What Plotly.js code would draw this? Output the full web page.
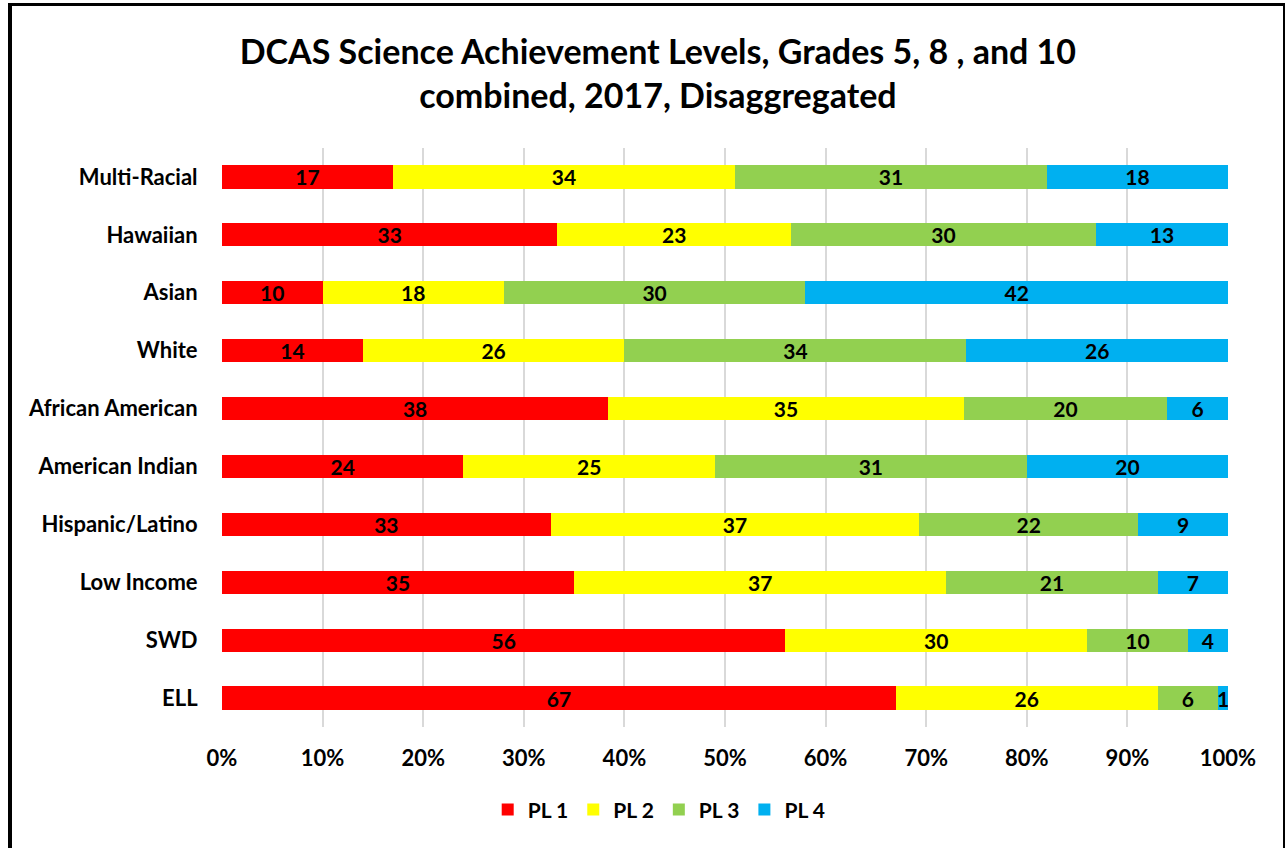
<!DOCTYPE html>
<html>
<head>
<meta charset="utf-8">
<script src="https://cdn.plot.ly/plotly-3.0.1.min.js"></script>
<style>
html,body{margin:0;padding:0;background:#fff;width:1285px;height:848px;overflow:hidden;}
#chart{position:absolute;left:0;top:0;width:1285px;height:848px;}
#frame{position:absolute;left:8px;top:3px;width:1271px;height:842px;border-left:4px solid #000;border-top:3px solid #000;border-right:2px solid #000;border-bottom:1px solid #a0a0a0;pointer-events:none;}
</style>
</head>
<body>
<div id="chart"></div>
<div id="frame"></div>
<script>
var categories = ["Multi-Racial","Hawaiian","Asian","White","African American","American Indian","Hispanic/Latino","Low Income","SWD","ELL"];
var pl1 = [17,33,10,14,38,24,33,35,56,67];
var pl2 = [34,23,18,26,35,25,37,37,30,26];
var pl3 = [31,30,30,34,20,31,22,21,10,6];
var pl4 = [18,13,42,26,6,20,9,7,4,1];
var seriesNames = ["PL 1","PL 2","PL 3","PL 4"];
var seriesColors = ["#FF0000","#FFFF00","#92D050","#00B0F0"];
var seriesValues = [pl1,pl2,pl3,pl4];
var tickValues = [0,10,20,30,40,50,60,70,80,90,100];
var tickLabels = ['0%','10%','20%','30%','40%','50%','60%','70%','80%','90%','100%'];

var FONT = "Lato, 'Open Sans', sans-serif";
var traces = seriesValues.map(function(vals,i){
  return {
    type:'bar', orientation:'h',
    name: seriesNames[i],
    x: vals, y: categories,
    text: vals.map(String),
    texttemplate:'%{text}',
    textposition:'inside',
    insidetextanchor:'middle',
    textangle:0,
    constraintext:'none',
    insidetextfont:{family:FONT,size:21,color:'#000',weight:700},
    marker:{color:seriesColors[i],line:{width:0}},
    hoverinfo:'skip'
  };
});

var layout = {
  width:1285, height:848,
  paper_bgcolor:'rgba(0,0,0,0)', plot_bgcolor:'#fff',
  margin:{l:222,r:57,t:148,b:121},
  barmode:'stack', barnorm:'percent', bargap:0.6,
  uniformtext:{mode:false},
  title:{text:'DCAS Science Achievement Levels, Grades 5, 8 , and 10<br>combined, 2017, Disaggregated',
         font:{family:FONT,size:34,color:'#000',weight:700},
         x:0.512, xanchor:'center', y:0.925, yanchor:'middle'},
  xaxis:{range:[0,100], tickvals:tickValues, ticktext:tickLabels,
         showgrid:true, gridcolor:'#d9d9d9', gridwidth:2, zeroline:false,
         showline:false, ticks:'', ticklen:0, ticklabelstandoff:16,
         tickfont:{family:FONT,size:22,color:'#000',weight:700},
         fixedrange:true},
  yaxis:{autorange:'reversed', showgrid:false, zeroline:false, showline:false,
         ticks:'outside', ticklen:19, tickcolor:'rgba(0,0,0,0)',
         tickfont:{family:FONT,size:22,color:'#000',weight:700},
         fixedrange:true},
  showlegend:true,
  legend:{orientation:'h', xref:'container', yref:'container', x:0.513, xanchor:'center', y:0.045, yanchor:'middle',
          traceorder:'normal', font:{family:FONT,size:21,color:'#000',weight:700},
          itemwidth:30},
  font:{family:FONT}
};
Plotly.newPlot('chart', traces, layout, {displayModeBar:false, staticPlot:true});
</script>
</body>
</html>
